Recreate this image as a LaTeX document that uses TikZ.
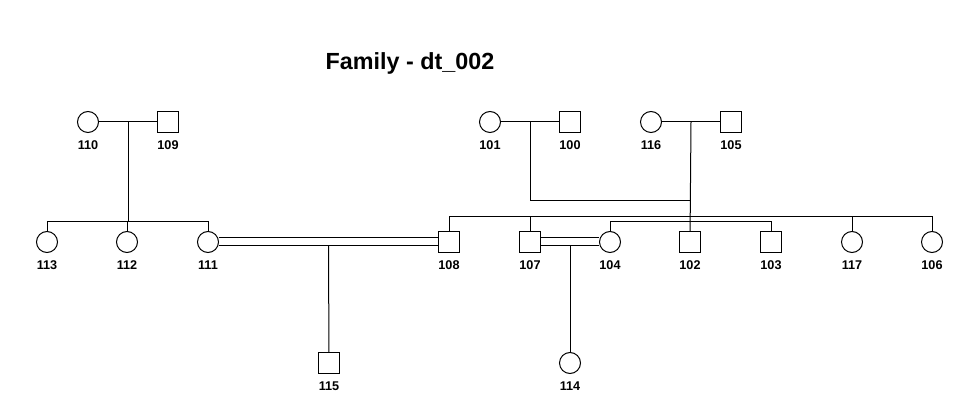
\documentclass[tikz,border=0pt]{standalone}
\usepackage{fontspec}
\setmainfont{Liberation Sans}
\usetikzlibrary{calc}

\begin{document}
\begin{tikzpicture}[x=0.75pt, y=-0.75pt, line width=0.75pt,
    male/.style={draw, rectangle, minimum size=15.75pt, inner sep=0pt},
    female/.style={draw, circle, minimum size=15.75pt, inner sep=0pt},
    pid/.style={font=\bfseries\fontsize{9.5}{11}\selectfont, inner sep=1pt, label distance=4.5pt},
    mate/.style={double, double distance=5.25pt}]

  \useasboundingbox (0,0) rectangle (964,416);
  \node[font=\bfseries\fontsize{17.5}{20}\selectfont] (title) at (410,63) {Family - dt\_002};

  % first generation
  \node[female, label={[pid]below:110}] (p110) at (88,122) {};
  \node[male,   label={[pid]below:109}] (p109) at (168,122) {};
  \node[female, label={[pid]below:101}] (p101) at (490,122) {};
  \node[male,   label={[pid]below:100}] (p100) at (570,122) {};
  \node[female, label={[pid]below:116}] (p116) at (651,122) {};
  \node[male,   label={[pid]below:105}] (p105) at (731,122) {};

  % second generation
  \node[female, label={[pid]below:113}] (p113) at (47,242) {};
  \node[female, label={[pid]below:112}] (p112) at (127,242) {};
  \node[female, label={[pid]below:111}] (p111) at (208,242) {};
  \node[male,   label={[pid]below:108}] (p108) at (449,242) {};
  \node[male,   label={[pid]below:107}] (p107) at (530,242) {};
  \node[female, label={[pid]below:104}] (p104) at (610,242) {};
  \node[male,   label={[pid]below:102}] (p102) at (690,242) {};
  \node[male,   label={[pid]below:103}] (p103) at (771,242) {};
  \node[female, label={[pid]below:117}] (p117) at (852,242) {};
  \node[female, label={[pid]below:106}] (p106) at (932,242) {};

  % third generation
  \node[male,   label={[pid]below:115}] (p115) at (329,363) {};
  \node[female, label={[pid]below:114}] (p114) at (570,363) {};

  % sibling lines
  \coordinate (s1) at (0,222);
  \coordinate (s2) at (0,217);
  \coordinate (s3) at (0,222);
  \coordinate (s4) at (0,201);

  % couples
  \draw (p110) -- (p109);
  \draw (p101) -- (p100);
  \draw (p116) -- (p105);
  \draw[mate] (p111) -- (p108);
  \draw[mate] (p107) -- (p104);
  \coordinate (m1) at ($(p110)!0.5!(p109)$);
  \coordinate (m2) at ($(p101)!0.5!(p100)$);
  \coordinate (m3) at ($(p116)!0.5!(p105)$);
  \coordinate (m4) at ($(p111)!0.5!(p108)$);
  \coordinate (m5) at ($(p107)!0.5!(p104)$);

  % descent
  \draw (m1) -- (m1 |- s1);
  \draw (p113) -- (p113 |- s1) -- (p111 |- s1) -- (p111);
  \draw (p112) -- (p112 |- s1);

  \draw (m2) -- (m2 |- s4) -- (m3 |- s4);
  \draw (m3) -- (p102);
  \draw (p108) -- (p108 |- s2) -- (p106 |- s2) -- (p106);
  \draw (p107) -- (p107 |- s2);
  \draw (p117) -- (p117 |- s2);
  \draw (p104) -- (p104 |- s3) -- (p103 |- s3) -- (p103);

  \draw ([yshift=-3pt]m4) -- (p115);
  \draw ([yshift=-3pt]m5) -- (p114);
\end{tikzpicture}
\end{document}
